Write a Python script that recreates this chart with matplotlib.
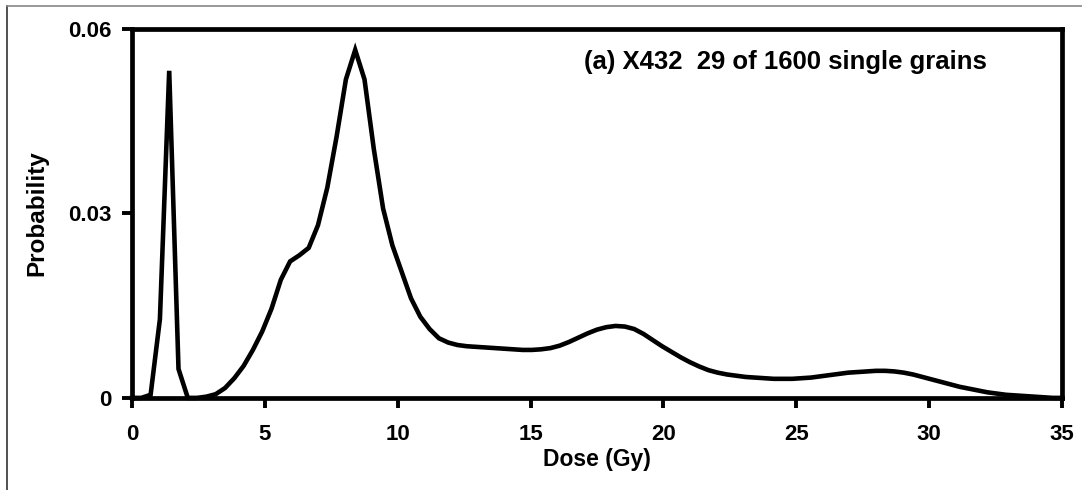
import matplotlib
matplotlib.use("Agg")
import matplotlib.pyplot as plt
from matplotlib.lines import Line2D

# dose grid (one sample every 0.35 Gy)
dose = [0.00, 0.35, 0.70, 1.05, 1.40, 1.75, 2.10, 2.45, 2.80, 3.15,
        3.50, 3.85, 4.20, 4.55, 4.90, 5.25, 5.60, 5.95, 6.30, 6.65,
        7.00, 7.35, 7.70, 8.05, 8.40, 8.75, 9.10, 9.45, 9.80, 10.15,
        10.50, 10.85, 11.20, 11.55, 11.90, 12.25, 12.60, 12.95, 13.30, 13.65,
        14.00, 14.35, 14.70, 15.05, 15.40, 15.75, 16.10, 16.45, 16.80, 17.15,
        17.50, 17.85, 18.20, 18.55, 18.90, 19.25, 19.60, 19.95, 20.30, 20.65,
        21.00, 21.35, 21.70, 22.05, 22.40, 22.75, 23.10, 23.45, 23.80, 24.15,
        24.50, 24.85, 25.20, 25.55, 25.90, 26.25, 26.60, 26.95, 27.30, 27.65,
        28.00, 28.35, 28.70, 29.05, 29.40, 29.75, 30.10, 30.45, 30.80, 31.15,
        31.50, 31.85, 32.20, 32.55, 32.90, 33.25, 33.60, 33.95, 34.30, 34.65,
        35.00]
prob = [0.0000, 0.0000, 0.0005, 0.0128, 0.0532, 0.0047, 0.0000, 0.0000, 0.0002, 0.0006,
        0.0016, 0.0032, 0.0052, 0.0078, 0.0108, 0.0145, 0.0192, 0.0222, 0.0232, 0.0244,
        0.0281, 0.0342, 0.0425, 0.0518, 0.0566, 0.0518, 0.0405, 0.0308, 0.0248, 0.0205,
        0.0162, 0.0132, 0.0112, 0.0097, 0.0090, 0.0086, 0.0084, 0.0083, 0.0082, 0.0081,
        0.0080, 0.0079, 0.0078, 0.0078, 0.0079, 0.0081, 0.0085, 0.0091, 0.0098, 0.0105,
        0.0111, 0.0115, 0.0117, 0.0116, 0.0112, 0.0104, 0.0094, 0.0084, 0.0075, 0.0066,
        0.0058, 0.0051, 0.0045, 0.0041, 0.0038, 0.0036, 0.0034, 0.0033, 0.0032, 0.0031,
        0.0031, 0.0031, 0.0032, 0.0033, 0.0035, 0.0037, 0.0039, 0.0041, 0.0042, 0.0043,
        0.0044, 0.0044, 0.0043, 0.0041, 0.0038, 0.0034, 0.0030, 0.0026, 0.0022, 0.0018,
        0.0015, 0.0012, 0.0009, 0.0007, 0.0005, 0.0004, 0.0003, 0.0002, 0.0001, 0.0000,
        0.0000]

x_ticks = [0, 5, 10, 15, 20, 25, 30, 35]
y_ticks = [0, 0.03, 0.06]
y_tick_labels = ["0", "0.03", "0.06"]
label_text = "(a) X432  29 of 1600 single grains"

plt.rcParams["font.family"] = ["Liberation Sans", "DejaVu Sans"]
plt.rcParams["font.weight"] = "bold"

fig = plt.figure(figsize=(10.82, 4.90), dpi=100)
ax = fig.add_axes([0.122, 0.188, 0.8595, 0.7528])

ax.plot(dose, prob, color="black", lw=3.3, solid_joinstyle="miter", clip_on=False, zorder=3)
ax.set_xlim(0, 35); ax.set_ylim(0, 0.06)
ax.set_xticks(x_ticks)
ax.set_xticklabels([str(t) for t in x_ticks])
ax.set_yticks(y_ticks)
ax.set_yticklabels(y_tick_labels)
for s in ax.spines.values():
    s.set_linewidth(3.4); s.set_color("black")
ax.tick_params(direction="out", length=7, width=2.8, labelsize=16)
ax.tick_params(axis="x", pad=12)
ax.tick_params(axis="y", pad=8)
for lab in ax.get_xticklabels() + ax.get_yticklabels():
    lab.set_fontweight("bold")

ax.set_xlabel("Dose (Gy)", fontsize=16.5, fontweight="bold", labelpad=2)
fig.text(0.034, 0.565, "Probability", rotation=90, ha="center", va="center",
         fontsize=17.5, fontweight="bold")
fig.text(0.7255, 0.873, label_text, ha="center", va="center", fontsize=18.5, fontweight="bold")

# thin frame drawn round the figure (left and top edges only visible)
fig.add_artist(Line2D([0.0065, 0.0065], [0, 0.988], transform=fig.transFigure, color="#333333", lw=1.2))
fig.add_artist(Line2D([0.0065, 1.0], [0.988, 0.988], transform=fig.transFigure, color="#888888", lw=1.2))

fig.savefig("out.png", dpi=100)
